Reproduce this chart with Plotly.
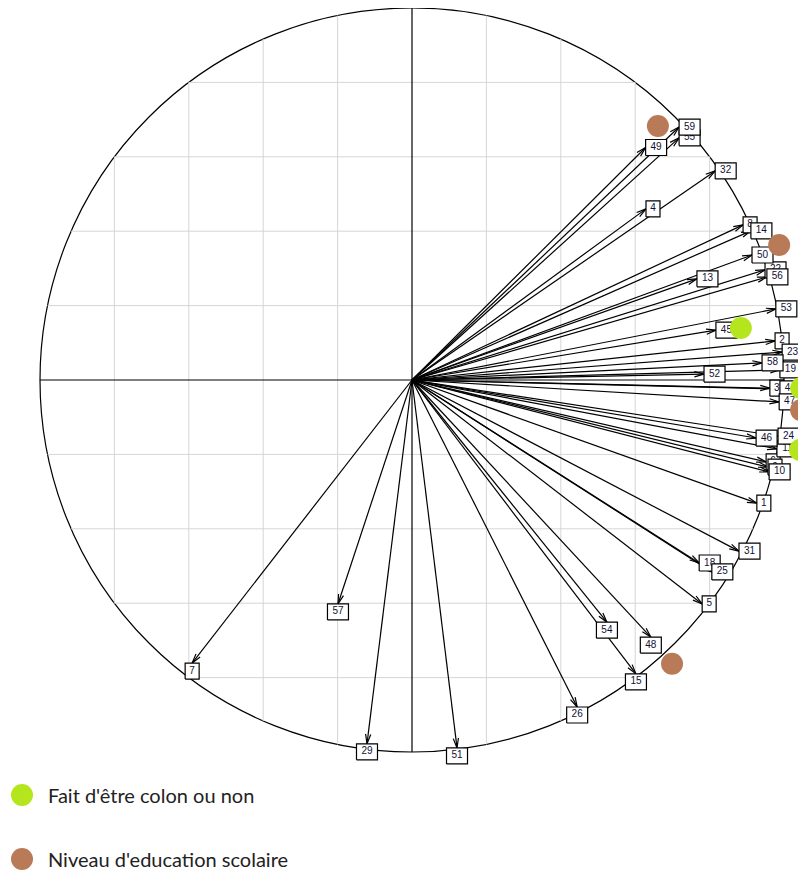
import math
import plotly.graph_objects as go

# ---------------- data (correlation-circle coordinates of each variable) ----------------
var_labels = ["1", "2", "3", "4", "5", "6", "7", "8", "9", "10", "11", "13", "14", "15",
              "18", "19", "22", "23", "24", "25", "26", "29", "31", "32", "44", "45", "46",
              "47", "48", "49", "50", "51", "52", "53", "54", "55", "56", "57", "58", "59"]
var_x = [0.927, 0.976, 0.962, 0.629, 0.780, 0.952, -0.591, 0.890, 0.957, 0.960, 0.981, 0.766, 0.911, 0.602,
         0.772, 0.989, 0.949, 0.995, 0.984, 0.806, 0.444, -0.121, 0.879, 0.815, 0.989, 0.817, 0.925,
         0.987, 0.642, 0.628, 0.914, 0.121, 0.785, 0.978, 0.524, 0.718, 0.954, -0.199, 0.941, 0.718]
var_y = [-0.331, 0.105, -0.022, 0.460, -0.602, -0.220, -0.761, 0.417, -0.234, -0.247, -0.185, 0.272, 0.401, -0.790,
         -0.492, 0.027, 0.296, 0.075, -0.151, -0.516, -0.879, -0.978, -0.460, 0.562, -0.024, 0.134, -0.156,
         -0.059, -0.691, 0.625, 0.336, -0.989, 0.016, 0.191, -0.651, 0.651, 0.277, -0.602, 0.046, 0.680]

# highlighted variables (dots)
green_x = [0.884, 1.046, 1.043]
green_y = [0.140, -0.022, -0.188]
brown_x = [0.661, 0.987, 1.046, 0.699]
brown_y = [0.683, 0.363, -0.081, -0.763]

legend_texts = ["Fait d'être colon ou non", "Niveau d'education scolaire"]
grid_levels = [-0.8, -0.6, -0.4, -0.2, 0.2, 0.4, 0.6, 0.8]

# ---------------- layout constants ----------------
# the page body has an 8px margin, so the figure is drawn 8px smaller
OFF = 8
W, H = 806 - OFF, 871 - OFF
PX = 372.0                       # pixels per unit
CXP, CYP = 412 - OFF, 380 - OFF  # pixel position of origin inside the figure
xr = [-CXP / PX, (W - CXP) / PX]
yr = [-(H - CYP) / PX, CYP / PX]
GREEN = "#b5e61d"
BROWN = "#b97a57"
GRID = "#d6d6d6"
LW = 1.2

fig = go.Figure()

# arrows (shafts)
sx, sy = [], []
for x, y in zip(var_x, var_y):
    sx += [0, x, None]
    sy += [0, y, None]
fig.add_trace(go.Scatter(x=sx, y=sy, mode="lines", line=dict(color="black", width=LW),
                         hoverinfo="skip", showlegend=False))

# arrow heads (open V, 15 deg, 10 px)
hx, hy = [], []
L = 10 / PX
a = math.radians(15)
for x, y in zip(var_x, var_y):
    r = math.hypot(x, y)
    ux, uy = x / r, y / r
    pts = []
    for s in (1, -1):
        rx = ux * math.cos(s * a) - uy * math.sin(s * a)
        ry = ux * math.sin(s * a) + uy * math.cos(s * a)
        pts.append((x - L * rx, y - L * ry))
    hx += [pts[0][0], x, pts[1][0], None]
    hy += [pts[0][1], y, pts[1][1], None]
fig.add_trace(go.Scatter(x=hx, y=hy, mode="lines", line=dict(color="black", width=LW),
                         hoverinfo="skip", showlegend=False))

# label boxes (ade4-style placement outside the arrow tip)
BH = 16 / PX
for lab, x, y in zip(var_labels, var_x, var_y):
    bw = (21 if len(lab) > 1 else 14) / PX
    if x > y and x > -y:          # right
        x0, x1, y0, y1 = x, x + bw, y - BH / 2, y + BH / 2
    elif x > y and x <= -y:       # bottom
        x0, x1, y0, y1 = x - bw / 2, x + bw / 2, y - BH, y
    elif x <= y and x <= -y:      # left
        x0, x1, y0, y1 = x - bw, x, y - BH / 2, y + BH / 2
    else:                         # top
        x0, x1, y0, y1 = x - bw / 2, x + bw / 2, y, y + BH
    fig.add_trace(go.Scatter(x=[x0, x1, x1, x0, x0], y=[y0, y0, y1, y1, y0], mode="lines",
                             fill="toself", fillcolor="white",
                             line=dict(color="black", width=LW),
                             hoverinfo="skip", showlegend=False))
    fig.add_trace(go.Scatter(x=[(x0 + x1) / 2], y=[(y0 + y1) / 2], mode="text", text=[lab],
                             textposition="middle center",
                             textfont=dict(family="Liberation Sans, Arial", size=10, color="#111133"),
                             hoverinfo="skip", showlegend=False))

# highlight dots
fig.add_trace(go.Scatter(x=green_x, y=green_y, mode="markers",
                         marker=dict(color=GREEN, size=22, line=dict(width=0)),
                         hoverinfo="skip", showlegend=False, cliponaxis=False))
fig.add_trace(go.Scatter(x=brown_x, y=brown_y, mode="markers",
                         marker=dict(color=BROWN, size=22, line=dict(width=0)),
                         hoverinfo="skip", showlegend=False, cliponaxis=False))

# legend (manual)
leg_y = [(CYP - (795 - OFF)) / PX, (CYP - (859 - OFF)) / PX]
leg_xm = ((22 - OFF) - CXP) / PX
leg_xt = ((46 - OFF) - CXP) / PX
fig.add_trace(go.Scatter(x=[leg_xm, leg_xm], y=leg_y, mode="markers",
                         marker=dict(color=[GREEN, BROWN], size=22, line=dict(width=0)),
                         hoverinfo="skip", showlegend=False, cliponaxis=False))
for t, yy in zip(legend_texts, leg_y):
    fig.add_annotation(x=leg_xt, y=yy, xref="x", yref="y", text=t, showarrow=False,
                       xanchor="left", yanchor="middle",
                       font=dict(family="Lato, Open Sans, sans-serif", size=20, color="#222222"))

# circle, axes and grid
shapes = [dict(type="circle", xref="x", yref="y", x0=-1, y0=-1, x1=1, y1=1,
               line=dict(color="black", width=LW), layer="below")]
for v in grid_levels:
    h = math.sqrt(1 - v * v)
    shapes.append(dict(type="line", xref="x", yref="y", x0=v, x1=v, y0=-h, y1=h,
                       line=dict(color=GRID, width=1), layer="below"))
    shapes.append(dict(type="line", xref="x", yref="y", x0=-h, x1=h, y0=v, y1=v,
                       line=dict(color=GRID, width=1), layer="below"))
shapes.append(dict(type="line", xref="x", yref="y", x0=0, x1=0, y0=-1, y1=1,
                   line=dict(color="black", width=LW), layer="below"))
shapes.append(dict(type="line", xref="x", yref="y", x0=-1, x1=1, y0=0, y1=0,
                   line=dict(color="black", width=LW), layer="below"))

fig.update_layout(
    width=W, height=H,
    margin=dict(l=0, r=0, t=0, b=0),
    paper_bgcolor="white", plot_bgcolor="white",
    xaxis=dict(range=xr, visible=False, fixedrange=True),
    yaxis=dict(range=yr, visible=False, fixedrange=True),
    shapes=shapes,
    showlegend=False,
)

fig.write_html("out.html")
